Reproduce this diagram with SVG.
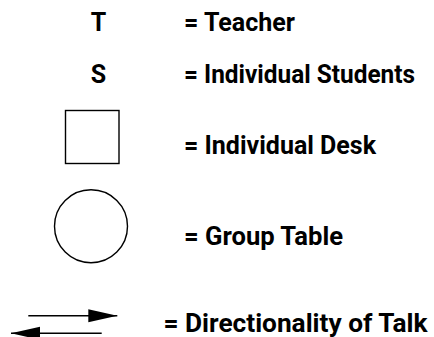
<svg xmlns="http://www.w3.org/2000/svg" width="434" height="337" viewBox="0 0 434 337">
  <style>
    .lbl { font-family: Roboto, "Liberation Sans", Arial, sans-serif; font-size: 25px; font-weight: bold; fill: #000; }
    .shape { fill: #fff; stroke: #000; stroke-width: 1.4; }
    .arr { stroke: #000; stroke-width: 1.4; fill: none; }
  </style>
  <defs>
    <marker id="head" markerUnits="userSpaceOnUse" markerWidth="30" markerHeight="14" refX="29" refY="7" orient="auto">
      <polygon points="0,0.5 29,7 0,13.5" fill="#000"/>
    </marker>
  </defs>
  <rect width="434" height="337" fill="#fff"/>
  <g id="teacher">
    <text class="lbl" x="98.5" y="31" text-anchor="middle">T</text>
    <text class="lbl" x="184" y="31" textLength="111" lengthAdjust="spacingAndGlyphs">= Teacher</text>
  </g>
  <g id="students">
    <text class="lbl" x="98.5" y="82.5" text-anchor="middle">S</text>
    <text class="lbl" x="184" y="82.5" textLength="231" lengthAdjust="spacingAndGlyphs">= Individual Students</text>
  </g>
  <g id="desk">
    <rect class="shape" x="65.5" y="110.5" width="53.5" height="53"/>
    <text class="lbl" x="184" y="153.5" textLength="192" lengthAdjust="spacingAndGlyphs">= Individual Desk</text>
  </g>
  <g id="group-table">
    <circle class="shape" cx="91" cy="226.3" r="36.5"/>
    <text class="lbl" x="184" y="245" textLength="159" lengthAdjust="spacingAndGlyphs">= Group Table</text>
  </g>
  <g id="connectors">
    <line class="arr" x1="28.3" y1="315.7" x2="117.3" y2="315.7" marker-end="url(#head)"/>
    <line class="arr" x1="101.7" y1="333.3" x2="11" y2="333.3" marker-end="url(#head)"/>
  </g>
  <g id="talk">
    <text class="lbl" x="163.5" y="332" textLength="264" lengthAdjust="spacingAndGlyphs">= Directionality of Talk</text>
  </g>
</svg>
